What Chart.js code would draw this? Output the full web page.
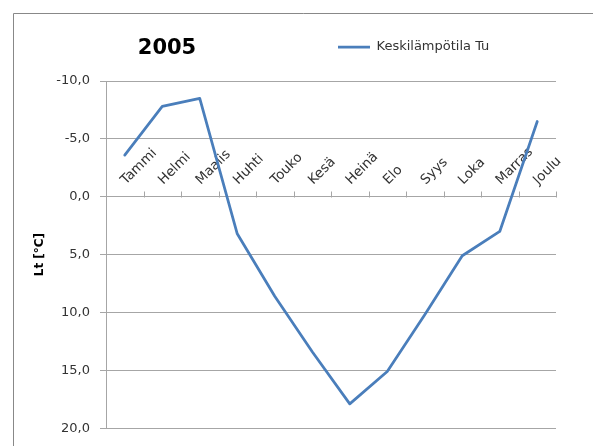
<!DOCTYPE html>
<html>
<head>
<meta charset="utf-8">
<script src="https://cdn.jsdelivr.net/npm/chart.js@4"></script>
<style>
    html, body { margin: 0; padding: 0; overflow: hidden; background: #ffffff; }
    canvas { display: block; }
</style>
</head>
<body>
<canvas id="tempChart" width="593" height="446" style="width:593px;height:446px"></canvas>
<script>
const yearTitle = '2005';
const seriesLabel = 'Keskilämpötila Tu';
const months = ['Tammi', 'Helmi', 'Maalis', 'Huhti', 'Touko', 'Kesä', 'Heinä', 'Elo', 'Syys', 'Loka', 'Marras', 'Joulu'];
const monthlyTemps = [-3.6, -7.8, -8.5, 3.2, 8.6, 13.4, 17.9, 15.1, 10.2, 5.1, 3.0, -6.5];
const yMin = -10;
const yMax = 20;
const yStep = 5;

const lineColor = '#4a7ebb';
const gridColor = '#a6a6a6';
const textColor = '#333333';

Chart.defaults.font.family = 'DejaVu Sans';
Chart.defaults.font.size = 13;
Chart.defaults.color = textColor;

// frame, year heading and the month labels that sit above the zero line
const frameAndMonths = {
    id: 'frameAndMonths',
    beforeDraw(chart) {
        const ctx = chart.ctx;
        ctx.save();
        ctx.strokeStyle = '#888888';
        ctx.lineWidth = 1;
        ctx.beginPath();
        ctx.moveTo(13.5, chart.height);
        ctx.lineTo(13.5, 13.5);
        ctx.lineTo(chart.width, 13.5);
        ctx.stroke();

        ctx.fillStyle = '#000000';
        ctx.font = 'bold 21px "DejaVu Sans"';
        ctx.textAlign = 'center';
        ctx.textBaseline = 'alphabetic';
        ctx.fillText(yearTitle, 167, 54);
        ctx.restore();
    },
    afterLayout(chart) {
        // legend sits on the same row as the heading
        const legend = chart.legend;
        const dx = 328 - legend.left;
        const dy = 30.5 - legend.top;
        legend.left += dx;
        legend.right += dx;
        legend.top += dy;
        legend.bottom += dy;
    },
    beforeDatasetsDraw(chart) {
        const ctx = chart.ctx;
        const x = chart.scales.x;
        const y = chart.scales.y;
        const zeroY = Math.round(y.getPixelForValue(0)) + 0.5;

        ctx.save();
        ctx.strokeStyle = gridColor;
        ctx.lineWidth = 1;
        ctx.beginPath();
        for (let k = 1; k <= months.length; k++) {
            const bx = Math.round(x.getPixelForValue(k - 0.5)) + 0.5;
            ctx.moveTo(bx, zeroY);
            ctx.lineTo(bx, zeroY - 6);
        }
        ctx.stroke();

        ctx.fillStyle = textColor;
        ctx.font = '13.5px "DejaVu Sans"';
        ctx.textAlign = 'left';
        ctx.textBaseline = 'alphabetic';
        months.forEach((m, i) => {
            ctx.save();
            ctx.translate(x.getPixelForValue(i) + 1, zeroY - 12.5);
            ctx.rotate(-Math.PI / 4);
            ctx.fillText(m, 0, 0);
            ctx.restore();
        });
        ctx.restore();
    }
};

const ctx = document.getElementById('tempChart').getContext('2d');
const tempChart = new Chart(ctx, {
    type: 'line',
    data: {
        labels: months,
        datasets: [{
            label: seriesLabel,
            data: monthlyTemps,
            borderColor: lineColor,
            backgroundColor: lineColor,
            borderWidth: 2.75,
            borderJoinStyle: 'round',
            borderCapStyle: 'round',
            pointRadius: 0,
            tension: 0,
            fill: false
        }]
    },
    options: {
        responsive: false,
        animation: false,
        layout: {
            padding: { left: 0, right: 37, top: 48, bottom: 15 }
        },
        plugins: {
            title: { display: false },
            tooltip: { enabled: false },
            legend: {
                display: true,
                position: 'top',
                align: 'start',
                labels: {
                    usePointStyle: true,
                    pointStyle: 'line',
                    pointStyleWidth: 32,
                    padding: 10,
                    color: textColor,
                    font: { size: 13 }
                }
            }
        },
        scales: {
            x: {
                display: false,
                offset: true
            },
            y: {
                reverse: true,
                min: yMin,
                max: yMax,
                afterFit(scale) {
                    scale.width = 106;
                },
                ticks: {
                    stepSize: yStep,
                    padding: 10,
                    color: textColor,
                    font: { size: 13 },
                    callback: value => value.toFixed(1).replace('.', ',')
                },
                grid: {
                    color: gridColor,
                    tickColor: gridColor,
                    tickLength: 6
                },
                border: { display: true, color: gridColor },
                title: {
                    display: true,
                    text: 'Lt [°C]',
                    color: '#000000',
                    font: { size: 12, weight: 'bold' },
                    padding: { top: 33, bottom: 0 }
                }
            }
        }
    },
    plugins: [frameAndMonths]
});
</script>
</body>
</html>
